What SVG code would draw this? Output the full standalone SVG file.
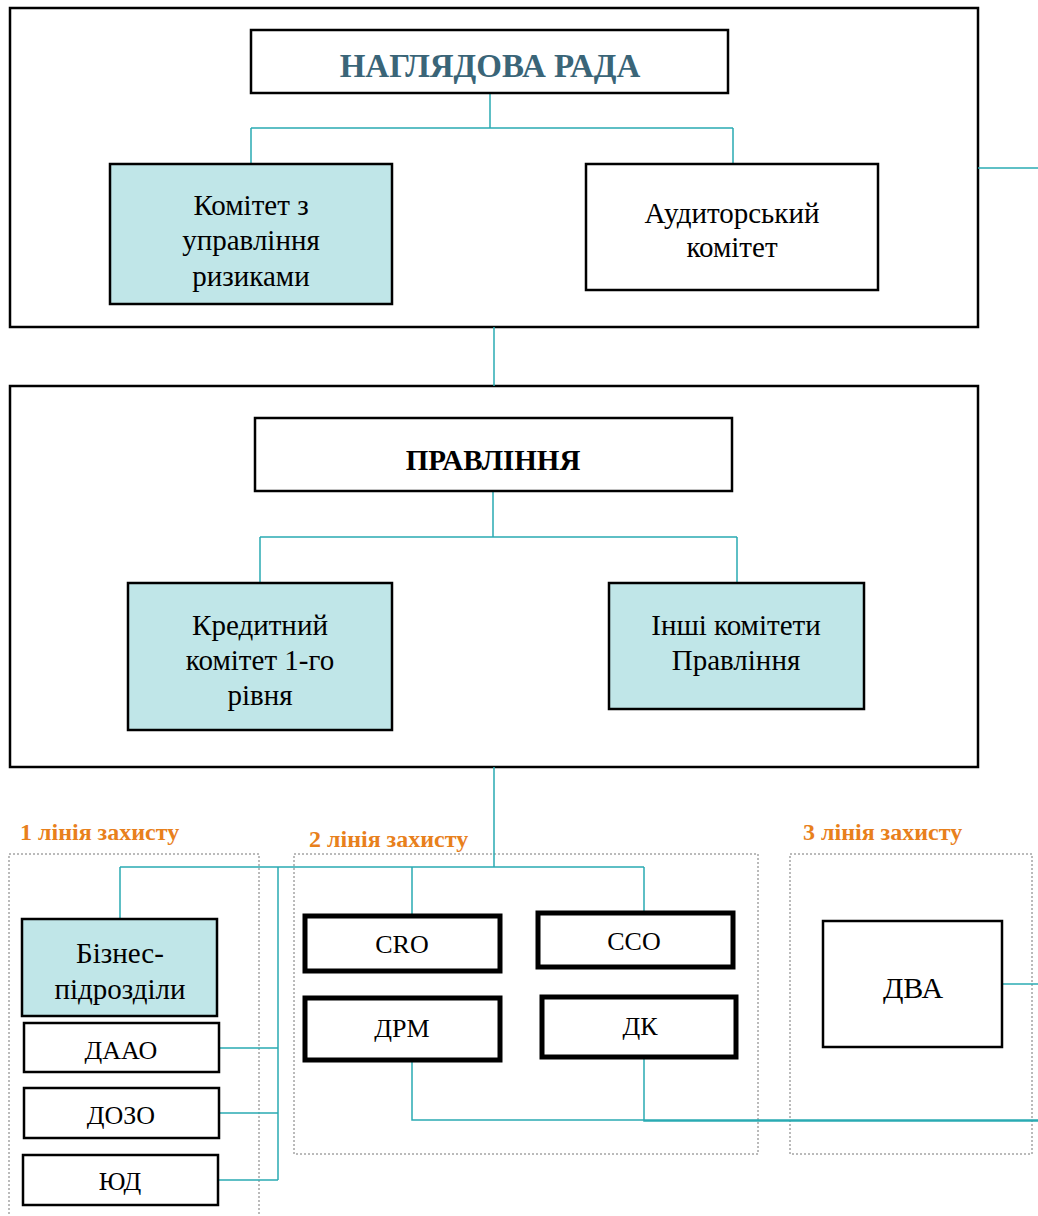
<svg xmlns="http://www.w3.org/2000/svg" width="1038" height="1216" viewBox="0 0 1038 1216">
<style>
.frame{fill:none;stroke:#000;stroke-width:2.5}
.box{fill:#fff;stroke:#000;stroke-width:2.5}
.fill{fill:#c0e6e8;stroke:#000;stroke-width:2.5}
.thick{fill:#fff;stroke:#000;stroke-width:5}
.dot{fill:none;stroke:#777;stroke-width:1;stroke-dasharray:2 2}
.conn path{fill:none;stroke:#2aabb3;stroke-width:1.5}
text{font-family:"Liberation Serif","Times New Roman",serif;fill:#000;text-anchor:middle}
.t{font-size:29px}
.s{font-size:26px}
.lbl{font-size:24px;font-weight:bold;fill:#e8801c;text-anchor:start}
</style>
<rect width="1038" height="1216" fill="#fff"/>

<g id="frame-board"><rect class="frame" x="10" y="8" width="968" height="319"/></g>
<g id="frame-management"><rect class="frame" x="10" y="386" width="968" height="381"/></g>
<g id="zone1"><rect class="dot" x="9" y="854" width="250" height="370"/><text class="lbl" x="20" y="840">1 лінія захисту</text></g>
<g id="zone2"><rect class="dot" x="294" y="854" width="464" height="300"/><text class="lbl" x="309" y="847">2 лінія захисту</text></g>
<g id="zone3"><rect class="dot" x="790" y="854" width="242" height="300"/><text class="lbl" x="803" y="840">3 лінія захисту</text></g>

<g class="conn" id="connectors">
<path d="M490 93V128M251 128H733M251 128V164M733 128V164"/>
<path d="M978 168H1038"/>
<path d="M494 327V386"/>
<path d="M493 491V537M260 537H737M260 537V583M737 537V583"/>
<path d="M494 767V867M120 867H644M120 867V919M412 867V914M644 867V911"/>
<path d="M278 867V1180M219 1048H278M219 1113H278M218 1180H278"/>
<path d="M412 1062V1120H1038M644 1059V1121H1038"/>
<path d="M1002 984H1038"/>
</g>

<g id="n-board"><rect class="box" x="251" y="30" width="477" height="63"/><text x="490" y="77" style="font-size:33px;font-weight:bold;fill:#3a6578">НАГЛЯДОВА РАДА</text></g>
<g id="n-riskcom"><rect class="fill" x="110" y="164" width="282" height="140"/><text class="t" x="251" y="215">Комітет з</text><text class="t" x="251" y="250">управління</text><text class="t" x="251" y="286">ризиками</text></g>
<g id="n-audit"><rect class="box" x="586" y="164" width="292" height="126"/><text class="t" x="732" y="223">Аудиторський</text><text class="t" x="732" y="257">комітет</text></g>

<g id="n-mgmt"><rect class="box" x="255" y="418" width="477" height="73"/><text x="493" y="470" style="font-size:29px;font-weight:bold">ПРАВЛІННЯ</text></g>
<g id="n-credit"><rect class="fill" x="128" y="583" width="264" height="147"/><text class="t" x="260" y="635">Кредитний</text><text class="t" x="260" y="670">комітет 1-го</text><text class="t" x="260" y="705">рівня</text></g>
<g id="n-other"><rect class="fill" x="609" y="583" width="255" height="126"/><text class="t" x="736" y="635">Інші комітети</text><text class="t" x="736" y="670">Правління</text></g>

<g id="n-business"><rect class="fill" x="22" y="919" width="195" height="97"/><text class="t" x="120" y="963">Бізнес-</text><text class="t" x="120" y="999">підрозділи</text></g>
<g id="n-daao"><rect class="box" x="24" y="1023" width="195" height="49"/><text class="s" x="121" y="1059">ДААО</text></g>
<g id="n-dozo"><rect class="box" x="24" y="1088" width="195" height="50"/><text class="s" x="121" y="1124">ДОЗО</text></g>
<g id="n-yud"><rect class="box" x="23" y="1155" width="195" height="50"/><text class="s" x="120" y="1190">ЮД</text></g>

<g id="n-cro"><rect class="thick" x="305" y="916" width="195" height="55"/><text class="s" x="402" y="953">CRO</text></g>
<g id="n-cco"><rect class="thick" x="538" y="913" width="195" height="54"/><text class="s" x="634" y="950">CCO</text></g>
<g id="n-drm"><rect class="thick" x="305" y="998" width="195" height="62"/><text class="s" x="402" y="1037">ДРМ</text></g>
<g id="n-dk"><rect class="thick" x="542" y="997" width="194" height="60"/><text class="s" x="640" y="1035">ДК</text></g>

<g id="n-dva"><rect class="box" x="823" y="921" width="179" height="126"/><text x="913" y="998" style="font-size:30px">ДВА</text></g>
</svg>
